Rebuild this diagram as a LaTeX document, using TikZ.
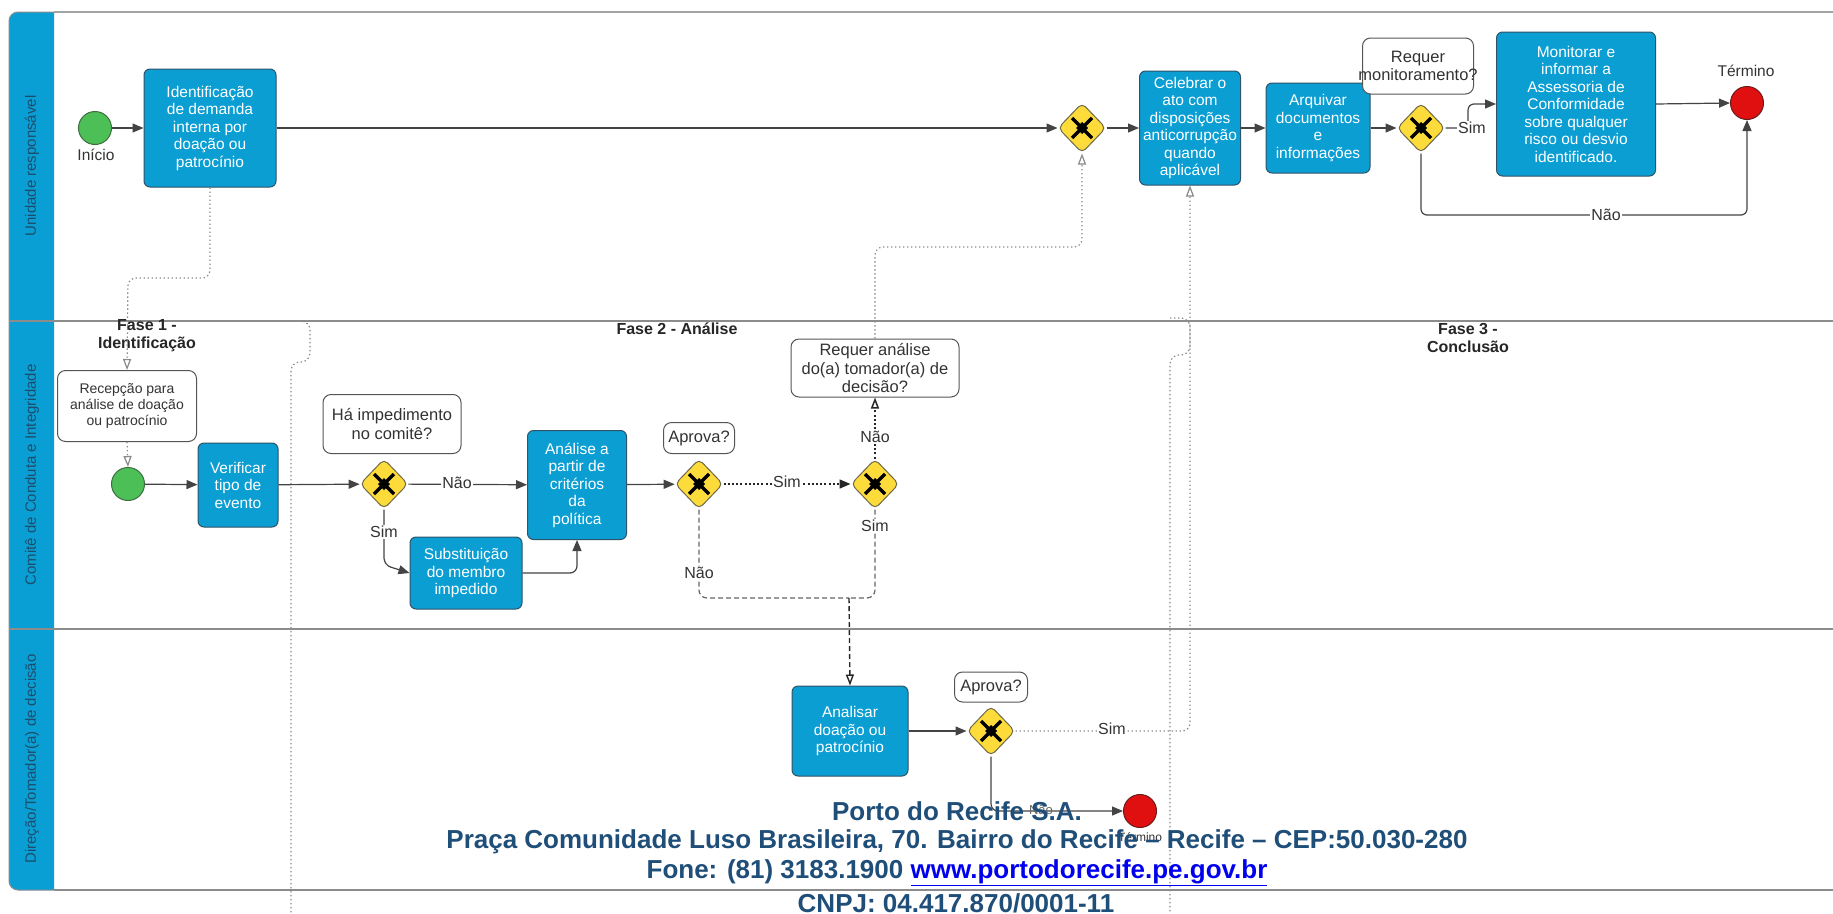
\documentclass[tikz,border=0pt]{standalone}
\usepackage{fontspec}
\setmainfont{Liberation Sans}
\usetikzlibrary{arrows.meta,shapes.geometric,calc}
\definecolor{taskblue}{HTML}{0A9ED3}
\definecolor{taskedge}{HTML}{2F5368}
\definecolor{hdrblue}{HTML}{0A9FD4}
\definecolor{hdrtxt}{HTML}{1C4D6A}
\definecolor{gwyellow}{HTML}{FDDB3A}
\definecolor{gwedge}{HTML}{6E6A4A}
\definecolor{stgreen}{HTML}{4DBF57}
\definecolor{stedge}{HTML}{3C6E40}
\definecolor{endred}{HTML}{E01010}
\definecolor{endedge}{HTML}{6A1C1C}
\definecolor{annedge}{HTML}{555555}
\definecolor{anntxt}{HTML}{333333}
\definecolor{flowc}{HTML}{444444}
\definecolor{dotc}{HTML}{8A8A8A}
\definecolor{poolc}{HTML}{8C8C8C}
\definecolor{footblue}{HTML}{1F4E79}
\definecolor{urlblue}{HTML}{0000EE}
\begin{document}
\begin{tikzpicture}[x=1pt,y=-1pt,
  every node/.style={font=\fontsize{15.5}{17.5}\selectfont},
  task/.style={rectangle, rounded corners=6pt, fill=taskblue, draw=taskedge, line width=1pt, text=white, align=center, inner sep=0pt},
  annot/.style={rectangle, rounded corners=8pt, fill=white, draw=annedge, line width=1pt, inner sep=0pt},
  anntext/.style={align=center, text=anntxt, inner sep=0pt, font=\fontsize{16.5}{18.3}\selectfont},
  startev/.style={circle, minimum size=33pt, inner sep=0pt, fill=stgreen, draw=stedge, line width=1pt},
  endev/.style={circle, minimum size=33pt, inner sep=0pt, fill=endred, draw=endedge, line width=1pt},
  gw/.style={diamond, minimum width=48pt, minimum height=50pt, inner sep=0pt, fill=gwyellow, draw=gwedge, line width=1pt, rounded corners=5pt,
    path picture={
      \coordinate (pc) at (path picture bounding box.center);
      \draw[sharp corners, line width=3.4pt, black] ([shift={(-10pt,-10pt)}]pc) -- ([shift={(10pt,10pt)}]pc);
      \draw[sharp corners, line width=3.4pt, black] ([shift={(-10pt,10pt)}]pc) -- ([shift={(10pt,-10pt)}]pc);
      \fill[sharp corners, black] ([shift={(0pt,-6pt)}]pc) -- ([shift={(6pt,0pt)}]pc) -- ([shift={(0pt,6pt)}]pc) -- ([shift={(-6pt,0pt)}]pc) -- cycle;
    }},
  lbl/.style={text=black!80, fill=white, inner sep=1pt, font=\fontsize{16}{18}\selectfont},
  plain/.style={text=black!80, inner sep=0pt, font=\fontsize{15.5}{17.5}\selectfont},
  phase/.style={text=black!85, align=center, inner sep=0pt, font=\bfseries\fontsize{16}{18}\selectfont},
  lanelbl/.style={rotate=90, text=hdrtxt, inner sep=0pt, font=\fontsize{15}{17}\selectfont},
  flow/.style={draw=flowc, line width=1.2pt},
  arr/.style={-{Triangle[length=11pt,width=9pt]}},
  oarr/.style={-{Triangle[open,fill=white,length=11pt,width=8pt]}},
  dotg/.style={draw=dotc, line width=1.2pt, dash pattern=on 1.4pt off 2.6pt},
  dotk/.style={draw=black!85, line width=1.5pt, dash pattern=on 2pt off 2.2pt},
  dashg/.style={draw=black!60, line width=1.2pt, dash pattern=on 5pt off 3pt},
  dashk/.style={draw=black!85, line width=1.4pt, dash pattern=on 5pt off 3pt},
  foot/.style={text=footblue, inner sep=0pt, font=\bfseries\fontsize{26}{30}\selectfont}
]
\useasboundingbox (0,0) rectangle (1833,913);
\fill[white] (0,0) rectangle (1833,913);

% ---------- pool and lanes ----------
\fill[hdrblue] (54,12) [rounded corners=9pt] -- (9,12) -- (9,890) [sharp corners] -- (54,890) -- cycle;
\draw[draw=poolc, line width=1pt] (54,12) [rounded corners=9pt] -- (9,12) -- (9,890) [sharp corners] -- (54,890);
\draw[draw=poolc!80, line width=1.5pt] (54,12) -- (1833,12);
\draw[draw=poolc, line width=2pt] (9,321) -- (1833,321);
\draw[draw=poolc, line width=2pt] (9,629) -- (1833,629);
\draw[draw=poolc, line width=2pt] (54,890) -- (1833,890);
\node[lanelbl] (lane1) at (32,166) {Unidade responsável};
\node[lanelbl] (lane2) at (32,475) {Comitê de Conduta e Integridade};
\node[lanelbl] (lane3) at (32,759) {Direção/Tomador(a) de decisão};

% ---------- phases ----------
\node[phase] (ph1) at (147,336) {Fase 1 -\\Identificação};
\node[phase] (ph2) at (677,329) {Fase 2 - Análise};
\node[phase] (ph3) at (1468,338) {Fase 3 -\\Conclusão};
\draw[dotg, rounded corners=9pt] (291,321) -- (310,321) -- (310,362) -- (291,362) -- (291,913);
\draw[dotg, rounded corners=9pt] (1170,318) -- (1190,318) -- (1190,355) -- (1170,355) -- (1170,913);

% ---------- lane 1 ----------
\node[startev] (s1) at (95,128) {};
\node[plain] (s1l) at (96,155) {Início};
\node[task, minimum width=132pt, minimum height=118pt] (t1) at (210,128) {Identificação\\de demanda\\interna por\\doação ou\\patrocínio};
\node[gw] (g1) at (1082,128) {};
\node[task, minimum width=101pt, minimum height=114pt] (t2) at (1190,128) {Celebrar o\\ato com\\disposições\\anticorrupção\\quando\\aplicável};
\node[task, minimum width=104pt, minimum height=90pt] (t3) at (1318,128) {Arquivar\\documentos\\e\\informações};
\node[gw] (g2) at (1421,128) {};
\node[annot, minimum width=111pt, minimum height=56pt] (a1) at (1418,66) {};
\node[anntext] (a1t) at (a1) {Requer\\monitoramento?};
\node[task, minimum width=159pt, minimum height=144pt] (t4) at (1576,104) {Monitorar e\\informar a\\Assessoria de\\Conformidade\\sobre qualquer\\risco ou desvio\\identificado.};
\node[endev] (e1) at (1747,103) {};
\node[plain] (e1l) at (1746,71) {Término};
\coordinate (c1) at (1468,128);
\coordinate (c2) at (1468,104);
\coordinate (c3) at (1421,215);
\coordinate (c4) at (1747,215);

\draw[flow, arr] (s1) -- (t1);
\draw[flow, arr] (t1) -- (g1);
\draw[flow, arr] (g1) -- (t2);
\draw[flow, arr] (t2) -- (t3);
\draw[flow, arr] (t3) -- (g2);
\draw[flow, arr, rounded corners=6pt] (g2.east) -- (c1) -- (c2) -- (t4.west);
\node[lbl] (simg2) at (1472,128) {Sim};
\draw[flow, arr] (t4.east) -- (e1.west);
\draw[flow, arr, rounded corners=6pt] (g2.south) -- (c3) -- (c4) -- (e1.south);
\node[lbl] (naog2) at (1606,215) {Não};

% ---------- lane 2 ----------
\node[annot, minimum width=139pt, minimum height=71pt] (a2) at (127,406) {};
\node[anntext, font=\fontsize{14}{15.7}\selectfont] (a2t) at (a2) {Recepção para\\análise de doação\\ou patrocínio};
\node[startev] (s2) at (128,484) {};
\node[task, minimum width=80pt, minimum height=84pt] (t5) at (238,485) {Verificar\\tipo de\\evento};
\node[gw] (g3) at (384,484) {};
\node[annot, minimum width=138pt, minimum height=59pt] (a3) at (392,424) {};
\node[anntext] (a3t) at (a3) {Há impedimento\\no comitê?};
\node[task, minimum width=99pt, minimum height=109pt] (t6) at (577,485) {Análise a\\partir de\\critérios\\da\\política};
\node[task, minimum width=112pt, minimum height=72pt] (t7) at (466,573) {Substituição\\do membro\\impedido};
\node[gw] (g4) at (699,484) {};
\node[annot, minimum width=71pt, minimum height=31pt] (a4) at (699,438) {};
\node[anntext] (a4t) at (a4) {Aprova?};
\node[gw] (g5) at (875,484) {};
\node[annot, minimum width=168pt, minimum height=58pt] (a5) at (875,368) {};
\node[anntext] (a5t) at (a5) {Requer análise\\do(a) tomador(a) de\\decisão?};

\coordinate (d1) at (210,278);
\coordinate (d2) at (128,278);
\coordinate (d3) at (384,565);
\coordinate (d4) at (577,573);
\coordinate (d5) at (875,247);
\coordinate (d6) at (1082,247);
\coordinate (m1) at (699,598);
\coordinate (m2) at (875,598);
\coordinate (mj) at (849,598);

\draw[dotg, oarr, rounded corners=8pt] (t1.south) -- (d1) -- (d2) -- (a2.north);
\draw[dotg, oarr] (a2.south) -- (s2.north);
\draw[flow, arr] (s2) -- (t5);
\draw[flow, arr] (t5) -- (g3);
\draw[flow, arr] (g3) -- (t6);
\node[lbl] (naog3) at (457,483) {Não};
\draw[flow, arr, rounded corners=7pt] (g3.south) -- (d3) -- (t7.west);
\node[lbl] (simg3) at (384,532) {Sim};
\draw[flow, arr, rounded corners=7pt] (t7.east) -- (d4) -- (t6.south);
\draw[flow, arr] (t6) -- (g4);
\draw[dotk, arr] (g4) -- (g5);
\node[lbl] (simg4) at (787,482) {Sim};
\draw[dotk, oarr] (g5.north) -- (a5.south);
\node[lbl] (naog5) at (875,437) {Não};
\draw[dotg, oarr, rounded corners=8pt] (a5.north) -- (d5) -- (d6) -- (g1.south);
\draw[dashg, rounded corners=8pt] (g4.south) -- (m1) -- (mj);
\node[lbl] (naog4) at (699,573) {Não};
\draw[dashg, rounded corners=8pt] (g5.south) -- (m2) -- (mj);
\node[lbl] (simg5) at (875,526) {Sim};

% ---------- lane 3 ----------
\node[task, minimum width=116pt, minimum height=90pt] (t8) at (850,731) {Analisar\\doação ou\\patrocínio};
\node[gw] (g6) at (991,731) {};
\node[annot, minimum width=73pt, minimum height=30pt] (a6) at (991,687) {};
\node[anntext] (a6t) at (a6) {Aprova?};
\node[endev] (e2) at (1140,811) {};
\node[plain, font=\fontsize{12}{14}\selectfont] (e2l) at (1140,837) {Término};
\coordinate (f1) at (1190,731);
\coordinate (f2) at (991,811);

\draw[dashk, oarr] (mj) -- (t8.north);
\draw[flow, arr] (t8) -- (g6);
\draw[dotg, oarr, rounded corners=8pt] (g6.east) -- (f1) -- (t2.south);
\node[lbl] (simg6) at (1112,729) {Sim};
\draw[flow, arr, rounded corners=7pt] (g6.south) -- (f2) -- (e2.west);
\node[plain, font=\fontsize{13}{15}\selectfont, text=black!60] (naog6) at (1041,810) {Não};

% ---------- footer ----------
\node[foot] (ft1) at (957,811) {Porto do Recife S.A.};
\node[foot] (ft2) at (957,842) {Praça Comunidade Luso Brasileira, 70. Bairro do Recife – Recife – CEP:50.030-280};
\node[foot] (ft3) at (957,873) {Fone: (81) 3183.1900 \textcolor{urlblue}{\underline{www.portodorecife.pe.gov.br}}};
\node[foot] (ft4) at (956,903) {CNPJ: 04.417.870/0001-11};
\end{tikzpicture}
\end{document}
